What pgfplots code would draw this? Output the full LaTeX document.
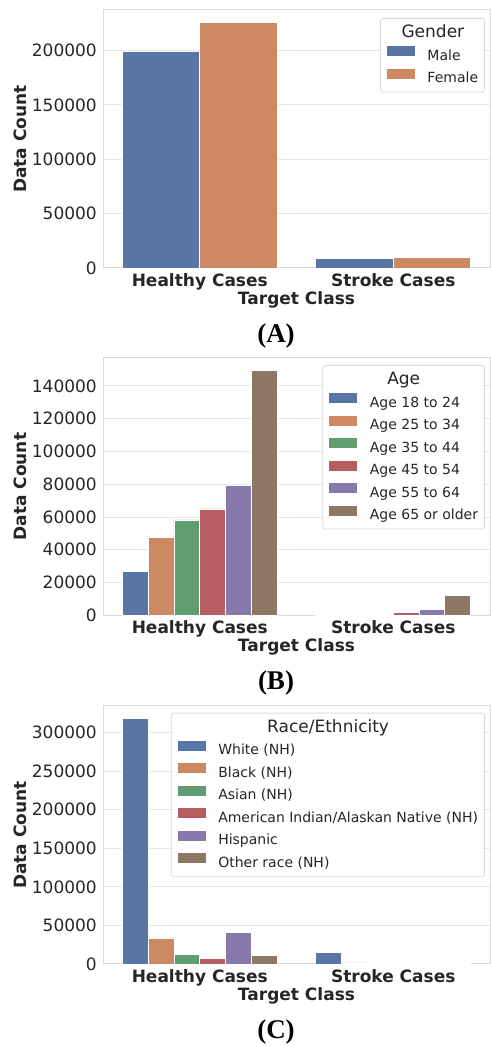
\documentclass[border=0pt]{standalone}
\usepackage{fontspec}
\setmainfont{DejaVu Sans}
\newfontfamily\capfont{Liberation Serif}
\usepackage{pgfplots}
\pgfplotsset{compat=1.18}

% seaborn "deep" palette, desaturated as barplot does it
\definecolor{sbBlue}{HTML}{5875A4}
\definecolor{sbOrange}{HTML}{CC8963}
\definecolor{sbGreen}{HTML}{5F9E6E}
\definecolor{sbRed}{HTML}{B55D60}
\definecolor{sbPurple}{HTML}{857AAB}
\definecolor{sbBrown}{HTML}{8D7866}
\definecolor{txt}{HTML}{262626}
\definecolor{gridc}{HTML}{E6E6E6}
\definecolor{spine}{HTML}{DADADA}

\pgfplotsset{
  panel/.style={
    scale only axis, width=387pt,
    xmin=-0.5, xmax=1.5, ymin=0,
    ybar=0pt,
    xtick={0,1}, xticklabels={Healthy Cases, Stroke Cases},
    ymajorgrids, xmajorgrids=false,
    grid style={gridc, line width=1pt},
    axis line style={spine, line width=1pt},
    major tick length=0pt,
    scaled y ticks=false,
    /pgf/number format/fixed,
    /pgf/number format/1000 sep={},
    /pgf/number format/assume math mode=true,
    tick label style={font=\fontsize{17}{20}\selectfont, text=txt},
    yticklabel style={anchor=east, inner sep=0pt, xshift=-6pt},
    xticklabel style={anchor=north, inner sep=0pt, yshift=-5pt,
      font=\fontsize{17}{20}\selectfont\bfseries},
    xlabel={Target Class}, ylabel={Data Count},
    label style={font=\fontsize{17}{20}\selectfont\bfseries, text=txt},
    xlabel style={at={(axis description cs:0.5,0)}, anchor=north,
      inner sep=0pt, yshift=-23.5pt},
    ylabel style={at={(axis description cs:-0.2145,0.5)}, anchor=center,
      inner sep=0pt},
    every axis plot/.append style={draw=white, line width=0.8pt},
    legend image code/.code={
      \path[#1, draw=none, sharp corners, fill opacity=1]
        (0pt,-1pt) rectangle (28pt,9pt);},
    legend cell align=left,
    legend style={anchor=north east, draw=spine, line width=0.8pt,
      rounded corners=2.5pt, fill=white, fill opacity=0.8, text opacity=1,
      text=txt, font=\fontsize{14}{16}\selectfont,
      inner xsep=6.5pt, inner ysep=6.3pt, column sep=12.5pt, row sep=5.5pt,
      nodes={inner sep=0pt, text height=13pt, text depth=3pt}},
  },
}

\begin{document}
\begin{tikzpicture}
\path[use as bounding box] (0,0) rectangle (490pt,1046pt);

% (A) gender
\begin{axis}[panel, at={(103pt,778pt)}, anchor=south west, height=258pt,
    bar width=0.4,
    ymax=237300, ytick={0,50000,100000,150000,200000},
    legend style={at={(axis description cs:0.9871,0.969)}}]
  \addlegendimage{empty legend}
  \addlegendentry{\hspace*{5.4pt}\makebox[0pt]{\fontsize{17}{20}\selectfont Gender}}
  \addplot[fill=sbBlue] coordinates {(0,199500) (1,8900)};
  \addlegendentry{Male}
  \addplot[fill=sbOrange] coordinates {(0,226000) (1,9900)};
  \addlegendentry{Female}
\end{axis}

% (B) age
\begin{axis}[panel, at={(103pt,430.7pt)}, anchor=south west, height=257.3pt,
    bar width=0.13333,
    ymax=157080, ytick={0,20000,40000,60000,80000,100000,120000,140000},
    legend style={at={(axis description cs:0.9871,0.9728)}}]
  \addlegendimage{empty legend}
  \addlegendentry{\hspace*{33.9pt}\makebox[0pt]{\fontsize{17}{20}\selectfont Age}}
  \addplot[fill=sbBlue] coordinates {(0,26700) (1,100)};
  \addlegendentry{Age 18 to 24}
  \addplot[fill=sbOrange] coordinates {(0,47300) (1,250)};
  \addlegendentry{Age 25 to 34}
  \addplot[fill=sbGreen] coordinates {(0,58200) (1,600)};
  \addlegendentry{Age 35 to 44}
  \addplot[fill=sbRed] coordinates {(0,64900) (1,1500)};
  \addlegendentry{Age 45 to 54}
  \addplot[fill=sbPurple] coordinates {(0,79000) (1,3700)};
  \addlegendentry{Age 55 to 64}
  \addplot[fill=sbBrown] coordinates {(0,149600) (1,12000)};
  \addlegendentry{Age 65 or older}
\end{axis}

% (C) race / ethnicity
\begin{axis}[panel, at={(103pt,82pt)}, anchor=south west, height=258pt,
    bar width=0.13333,
    ymax=334530, ytick={0,50000,100000,150000,200000,250000,300000},
    legend style={at={(axis description cs:0.9871,0.974)}}]
  \addlegendimage{empty legend}
  \addlegendentry{\hspace*{109.8pt}\makebox[0pt]{\fontsize{17}{20}\selectfont Race/Ethnicity}}
  \addplot[fill=sbBlue] coordinates {(0,318600) (1,14800)};
  \addlegendentry{White (NH)}
  \addplot[fill=sbOrange] coordinates {(0,33800) (1,1400)};
  \addlegendentry{Black (NH)}
  \addplot[fill=sbGreen] coordinates {(0,12600) (1,200)};
  \addlegendentry{Asian (NH)}
  \addplot[fill=sbRed] coordinates {(0,6900) (1,250)};
  \addlegendentry{American Indian/Alaskan Native (NH)}
  \addplot[fill=sbPurple] coordinates {(0,41200) (1,900)};
  \addlegendentry{Hispanic}
  \addplot[fill=sbBrown] coordinates {(0,11300) (1,400)};
  \addlegendentry{Other race (NH)}
\end{axis}

\node[font=\fontsize{27}{30}\selectfont\capfont\bfseries, text=black]
  at (276pt,710pt) {(A)};
\node[font=\fontsize{27}{30}\selectfont\capfont\bfseries, text=black]
  at (276pt,362.5pt) {(B)};
\node[font=\fontsize{27}{30}\selectfont\capfont\bfseries, text=black]
  at (276pt,14.3pt) {(C)};
\end{tikzpicture}
\end{document}
